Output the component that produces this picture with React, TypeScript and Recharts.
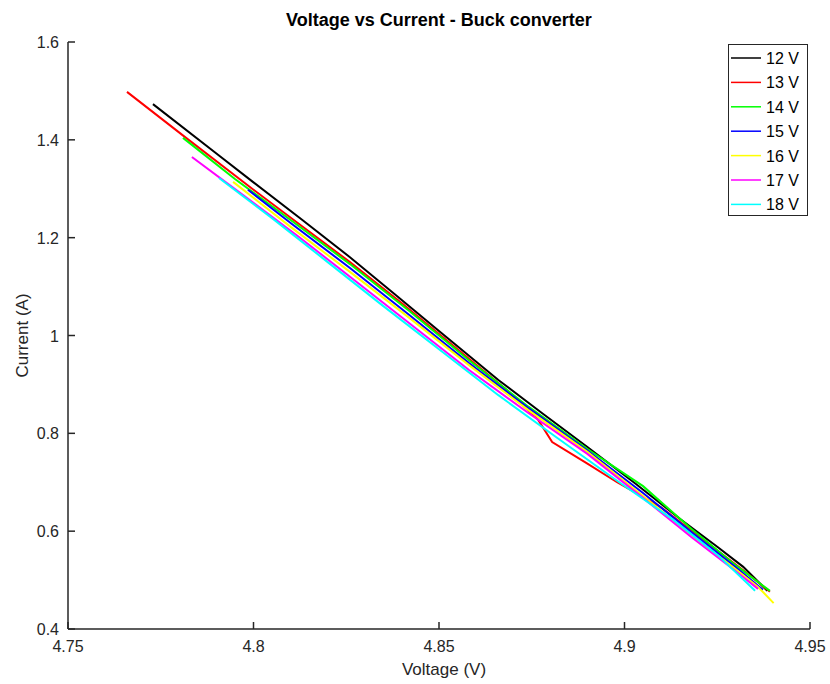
import React from 'react';
import { LineChart, Line, XAxis, YAxis } from 'recharts';

const FONT = '"Liberation Sans", Arial, Helvetica, sans-serif';
const AXIS_COLOR = '#262626';

const xTicks = [4.75, 4.8, 4.85, 4.9, 4.95];
const yTicks = [0.4, 0.6, 0.8, 1, 1.2, 1.4, 1.6];

const seriesNames = ['12 V', '13 V', '14 V', '15 V', '16 V', '17 V', '18 V'];
const seriesColors = ['#000000', '#ff0000', '#00ff00', '#0000ff', '#ffff00', '#ff00ff', '#00ffff'];

// voltage (V) / current (A) samples per input voltage
const v12 = [4.7729, 4.79, 4.8, 4.813, 4.826, 4.838, 4.85, 4.866, 4.878, 4.89, 4.903, 4.915, 4.925, 4.932, 4.9385];
const i12 = [1.473, 1.372, 1.313, 1.237, 1.16, 1.085, 1.009, 0.909, 0.84, 0.772, 0.697, 0.625, 0.568, 0.527, 0.478];

const v13 = [4.7659, 4.782, 4.8, 4.813, 4.826, 4.84, 4.855, 4.868, 4.8767, 4.8805, 4.89, 4.898, 4.91, 4.922, 4.932, 4.9392];
const i13 = [1.498, 1.403, 1.298, 1.224, 1.15, 1.066, 0.972, 0.89, 0.828, 0.782, 0.738, 0.7, 0.648, 0.578, 0.52, 0.476];

const v14 = [4.781, 4.795, 4.81, 4.826, 4.842, 4.858, 4.874, 4.89, 4.905, 4.918, 4.93, 4.9392];
const i14 = [1.404, 1.32, 1.236, 1.146, 1.05, 0.95, 0.855, 0.768, 0.692, 0.605, 0.53, 0.478];

const v15 = [4.7985, 4.81, 4.826, 4.842, 4.858, 4.874, 4.89, 4.905, 4.918, 4.93, 4.9373];
const i15 = [1.298, 1.23, 1.138, 1.042, 0.944, 0.852, 0.765, 0.678, 0.598, 0.526, 0.48];

const v16 = [4.7945, 4.81, 4.826, 4.842, 4.858, 4.874, 4.89, 4.905, 4.918, 4.93, 4.936, 4.9402];
const i16 = [1.314, 1.222, 1.13, 1.036, 0.94, 0.848, 0.762, 0.672, 0.592, 0.522, 0.486, 0.453];

const v17 = [4.7834, 4.797, 4.812, 4.826, 4.842, 4.858, 4.874, 4.89, 4.905, 4.918, 4.93, 4.936];
const i17 = [1.365, 1.288, 1.203, 1.12, 1.025, 0.93, 0.842, 0.758, 0.668, 0.588, 0.518, 0.482];

const v18 = [4.7907, 4.805, 4.82, 4.835, 4.85, 4.866, 4.882, 4.898, 4.913, 4.925, 4.9352];
const i18 = [1.322, 1.24, 1.15, 1.06, 0.972, 0.878, 0.79, 0.703, 0.624, 0.552, 0.478];

const voltages = [v12, v13, v14, v15, v16, v17, v18];
const currents = [i12, i13, i14, i15, i16, i17, i18];

const series = seriesNames.map((name, s) => ({
    name,
    color: seriesColors[s],
    data: voltages[s].map((v, k) => ({ v, i: currents[s][k] })),
}));

const XTick = (props: any) => {
    const { x, y, payload } = props;
    return (
        <g>
            <line x1={x} y1={y} x2={x} y2={y - 7} stroke={AXIS_COLOR} strokeWidth={1.5} />
            <text x={x} y={y + 23} textAnchor="middle" fontSize={16} fontFamily={FONT} fill={AXIS_COLOR}>
                {payload.value}
            </text>
        </g>
    );
};

const YTick = (props: any) => {
    const { x, y, payload } = props;
    return (
        <g>
            <line x1={x} y1={y} x2={x + 7} y2={y} stroke={AXIS_COLOR} strokeWidth={1.5} />
            <text x={x - 9} y={y + 6} textAnchor="end" fontSize={16} fontFamily={FONT} fill={AXIS_COLOR}>
                {payload.value}
            </text>
        </g>
    );
};

const XLabel = (props: any) => {
    const { x, y, width } = props.viewBox;
    return (
        <text x={x + width / 2 + 5} y={y + 46} textAnchor="middle" fontSize={17} fontFamily={FONT} fill={AXIS_COLOR}>
            Voltage (V)
        </text>
    );
};

const YLabel = (props: any) => {
    const { y, height } = props.viewBox;
    const cy = y + height / 2;
    return (
        <text
            x={28}
            y={cy}
            transform={`rotate(-90, 28, ${cy})`}
            textAnchor="middle"
            fontSize={17}
            fontFamily={FONT}
            fill={AXIS_COLOR}
        >
            Current (A)
        </text>
    );
};

const ChartLegend = () => (
    <div
        style={{
            position: 'absolute',
            left: 728,
            top: 44,
            width: 78,
            height: 170,
            border: `1px solid ${AXIS_COLOR}`,
            background: '#fff',
        }}
    >
        <svg width={78} height={170}>
            {series.map((s, idx) => {
                const cy = 13 + idx * 24.4;
                return (
                    <g key={s.name}>
                        <line x1={2} y1={cy} x2={32} y2={cy} stroke={s.color} strokeWidth={1.5} />
                        <text x={37} y={cy + 6} fontSize={16} fontFamily={FONT} fill="#000">
                            {s.name}
                        </text>
                    </g>
                );
            })}
        </svg>
    </div>
);

export default function App() {
    return (
        <div style={{ position: 'absolute', left: 0, top: 0, width: 830, height: 684, background: '#fff' }}>
            <div
                style={{
                    position: 'absolute',
                    left: 68,
                    top: 11,
                    width: 742,
                    textAlign: 'center',
                    fontFamily: FONT,
                    fontWeight: 'bold',
                    fontSize: 18,
                    lineHeight: '18px',
                    color: '#000',
                }}
            >
                Voltage vs Current - Buck converter
            </div>
            <LineChart width={830} height={684} margin={{ top: 42, right: 20, bottom: 0, left: 0 }}>
                <XAxis
                    type="number"
                    dataKey="v"
                    domain={[4.75, 4.95]}
                    ticks={xTicks}
                    allowDataOverflow
                    height={55}
                    tickSize={0}
                    tickMargin={0}
                    tickLine={false}
                    tick={<XTick />}
                    axisLine={{ stroke: AXIS_COLOR, strokeWidth: 1.5 }}
                    label={<XLabel />}
                />
                <YAxis
                    type="number"
                    dataKey="i"
                    domain={[0.4, 1.6]}
                    ticks={yTicks}
                    allowDataOverflow
                    width={68}
                    tickSize={0}
                    tickMargin={0}
                    tickLine={false}
                    tick={<YTick />}
                    axisLine={{ stroke: AXIS_COLOR, strokeWidth: 1.5 }}
                    label={<YLabel />}
                />
                {series.map((s) => (
                    <Line
                        key={s.name}
                        data={s.data}
                        dataKey="i"
                        name={s.name}
                        type="linear"
                        stroke={s.color}
                        strokeWidth={2}
                        dot={false}
                        activeDot={false}
                        isAnimationActive={false}
                    />
                ))}
            </LineChart>
            <ChartLegend />
        </div>
    );
}
